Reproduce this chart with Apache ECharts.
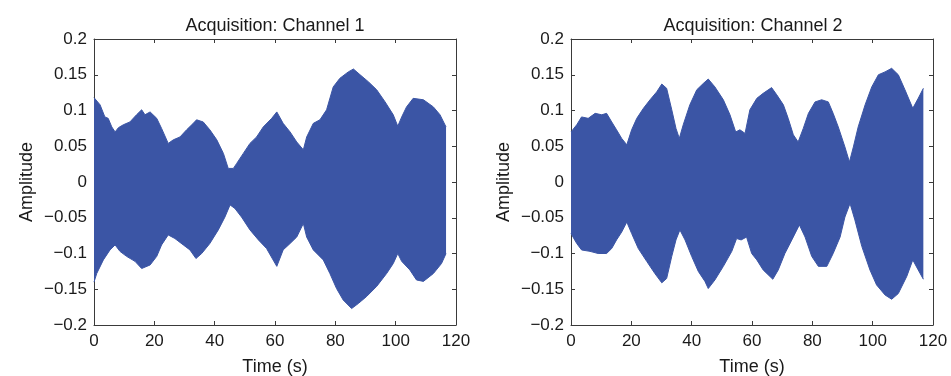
<!DOCTYPE html>
<html>
<head>
<meta charset="utf-8">
<script src="https://cdn.jsdelivr.net/npm/echarts@6/dist/echarts.min.js"></script>
<style>
  html, body { margin: 0; padding: 0; background: #fff; }
  #chart { width: 951px; height: 376px; }
</style>
</head>
<body>
<div id="chart"></div>
<script>
// envelope of the signal (time in s, amplitude)
const ch1UpperTime = [0, 2, 3.6, 4.7, 5.9, 7, 8.1, 9.7, 11.9, 14.1, 15.8, 16.9, 18.6, 20.8, 22.4, 24.6, 26.3, 28.5, 30.7, 32.9, 34, 36.2, 38.4, 40.7, 42.9, 44.5, 46.2, 47.3, 49.5, 51.7, 53.9, 56.1, 58.9, 60.6, 62.7, 65, 67.2, 69.4, 70.5, 72.7, 74.9, 77.1, 79.3, 81.5, 84.3, 86, 88.2, 91, 93.7, 96.5, 99.2, 100.7, 102, 103.6, 105.8, 109.2, 112.5, 114.7, 116.7]
const ch1Upper = [0.118, 0.108, 0.091, 0.089, 0.077, 0.070, 0.076, 0.080, 0.084, 0.094, 0.101, 0.094, 0.098, 0.089, 0.075, 0.054, 0.059, 0.063, 0.073, 0.082, 0.087, 0.084, 0.073, 0.059, 0.040, 0.019, 0.019, 0.026, 0.040, 0.054, 0.063, 0.077, 0.089, 0.098, 0.082, 0.070, 0.056, 0.045, 0.063, 0.082, 0.087, 0.101, 0.133, 0.145, 0.154, 0.158, 0.150, 0.140, 0.129, 0.112, 0.094, 0.078, 0.091, 0.105, 0.117, 0.115, 0.105, 0.094, 0.077]
const ch1LowerTime = [0, 0.9, 3.1, 5.3, 7, 8.6, 10.8, 13.6, 15.8, 18.6, 20.8, 22.4, 24.6, 26.8, 29.6, 31.8, 33.8, 35.7, 38.4, 41.2, 43.4, 45.1, 46.7, 48.9, 51.7, 54.5, 57.2, 60.6, 62.7, 65, 67.2, 69.4, 70.5, 72.7, 76, 78.2, 80.4, 82.6, 85.4, 87.6, 90.4, 93.7, 97, 99.2, 100.7, 102, 104.7, 106.9, 109.2, 112.5, 115.2, 116.7]
const ch1Lower = [-0.140, -0.128, -0.109, -0.095, -0.088, -0.097, -0.104, -0.111, -0.121, -0.116, -0.104, -0.088, -0.074, -0.079, -0.088, -0.095, -0.107, -0.100, -0.086, -0.067, -0.049, -0.032, -0.037, -0.049, -0.067, -0.081, -0.093, -0.118, -0.095, -0.086, -0.077, -0.058, -0.077, -0.095, -0.109, -0.128, -0.149, -0.165, -0.177, -0.170, -0.160, -0.146, -0.128, -0.114, -0.100, -0.111, -0.123, -0.137, -0.139, -0.128, -0.114, -0.100]

const ch2UpperTime = [0, 1.9, 3.5, 5.7, 8, 10.2, 11.8, 13.5, 15.1, 16.8, 18.5, 20.1, 21.8, 24, 26.2, 28.4, 30.1, 31.7, 33.4, 34.8, 35.9, 37.2, 39.4, 41.7, 43.9, 45.5, 47.7, 50.5, 52.7, 54.6, 56, 57.7, 59.3, 61.6, 63.7, 66.5, 68.2, 70.4, 72, 73.7, 75.3, 77, 78.7, 80.9, 83.1, 85.3, 86.9, 88.6, 90.8, 92.3, 93.6, 95.2, 97.5, 99.7, 101.9, 104.1, 106.3, 108.5, 110.7, 113.3, 115.1, 116.8]
const ch2Upper = [0.070, 0.080, 0.091, 0.089, 0.096, 0.094, 0.096, 0.084, 0.073, 0.061, 0.052, 0.073, 0.089, 0.103, 0.115, 0.126, 0.137, 0.131, 0.101, 0.075, 0.061, 0.080, 0.108, 0.129, 0.138, 0.144, 0.133, 0.115, 0.094, 0.070, 0.073, 0.068, 0.101, 0.117, 0.124, 0.132, 0.122, 0.108, 0.089, 0.066, 0.056, 0.075, 0.096, 0.112, 0.115, 0.112, 0.096, 0.077, 0.049, 0.028, 0.049, 0.077, 0.108, 0.133, 0.150, 0.154, 0.159, 0.150, 0.129, 0.103, 0.117, 0.131]
const ch2LowerTime = [0, 1.9, 3.5, 6.3, 9, 11.8, 13.5, 15.1, 16.8, 18.5, 20.1, 22.3, 25.1, 27.8, 30.1, 31.7, 33.4, 34.8, 36.1, 37.8, 40, 42.2, 44.4, 45.5, 47.7, 50.5, 53.3, 54.9, 56.4, 58.2, 59.9, 61.6, 63.7, 66.9, 68.7, 70.9, 73.2, 75.7, 77.6, 79.8, 82, 84.8, 86.9, 89.2, 90.8, 92.5, 94.1, 96.4, 99.1, 101.3, 104.1, 106.3, 108.5, 111.3, 113.3, 115.1, 116.8]
const ch2Lower = [-0.072, -0.086, -0.095, -0.097, -0.100, -0.100, -0.093, -0.081, -0.070, -0.056, -0.072, -0.093, -0.111, -0.128, -0.141, -0.135, -0.104, -0.081, -0.067, -0.081, -0.104, -0.125, -0.139, -0.149, -0.137, -0.118, -0.097, -0.079, -0.081, -0.077, -0.100, -0.109, -0.123, -0.136, -0.123, -0.100, -0.081, -0.060, -0.077, -0.104, -0.118, -0.118, -0.100, -0.077, -0.049, -0.030, -0.053, -0.090, -0.123, -0.144, -0.158, -0.164, -0.156, -0.132, -0.109, -0.123, -0.136]

const titles = ['Acquisition: Channel 1', 'Acquisition: Channel 2']
const timeTicks = { min: 0, max: 120, interval: 20 }
const ampTicks = { min: -0.2, max: 0.2, interval: 0.05 }

const fillColor = '#3b55a5'
const textColor = '#1a1a1a'
const lineColor = '#3a3a3a'
const font = 'Liberation Sans, Arial, Helvetica, sans-serif'

const fmtAmp = v => String(+v.toFixed(2)).replace('-', '\u2212')

const zip = (t, v) => t.map((x, i) => [x, v[i]])

// fixed plot boxes, no auto shrinking for labels
const grids = [
  { left: 94, right: 495, top: 39, bottom: 51, outerBoundsMode: 'none' },
  { left: 571, right: 18, top: 39, bottom: 51, outerBoundsMode: 'none' }
]

const xAxes = []
const yAxes = []
grids.forEach((g, i) => {
  // bottom axis with labels
  xAxes.push({
    type: 'value', gridIndex: i, position: 'bottom', ...timeTicks,
    name: 'Time (s)', nameLocation: 'middle', nameGap: 33,
    nameTextStyle: { color: textColor, fontSize: 18, fontFamily: font },
    axisLine: { show: true, onZero: false, lineStyle: { color: lineColor, width: 1 } },
    axisTick: { show: true, inside: true, length: 4, lineStyle: { color: lineColor } },
    axisLabel: { color: textColor, fontSize: 17, fontFamily: font, margin: 8 },
    splitLine: { show: false }
  })
  // top axis: only ticks and box line
  xAxes.push({
    type: 'value', gridIndex: i, position: 'top', ...timeTicks,
    axisLine: { show: true, onZero: false, lineStyle: { color: lineColor, width: 1 } },
    axisTick: { show: true, inside: true, length: 4, lineStyle: { color: lineColor } },
    axisLabel: { show: false },
    splitLine: { show: false }
  })
  yAxes.push({
    type: 'value', gridIndex: i, position: 'left', ...ampTicks,
    name: 'Amplitude', nameLocation: 'middle', nameGap: 58, nameRotate: 90,
    nameTextStyle: { color: textColor, fontSize: 18, fontFamily: font },
    axisLine: { show: true, onZero: false, lineStyle: { color: lineColor, width: 1 } },
    axisTick: { show: true, inside: true, length: 4, lineStyle: { color: lineColor } },
    axisLabel: { color: textColor, fontSize: 17, fontFamily: font, margin: 7, formatter: fmtAmp },
    splitLine: { show: false }
  })
  yAxes.push({
    type: 'value', gridIndex: i, position: 'right', ...ampTicks,
    axisLine: { show: true, onZero: false, lineStyle: { color: lineColor, width: 1 } },
    axisTick: { show: true, inside: true, length: 4, lineStyle: { color: lineColor } },
    axisLabel: { show: false },
    splitLine: { show: false }
  })
})

const envelope = (data, axis) => ({
  type: 'line',
  xAxisIndex: axis * 2,
  yAxisIndex: axis * 2,
  data,
  showSymbol: false,
  silent: true,
  lineStyle: { color: fillColor, width: 1 },
  areaStyle: { color: fillColor, opacity: 1, origin: 0 }
})

const chart = echarts.init(document.getElementById('chart'))
chart.setOption({
  animation: false,
  backgroundColor: '#ffffff',
  title: titles.map((t, i) => ({
    text: t,
    left: i === 0 ? 270 : 748,
    top: 12,
    textAlign: 'center',
    textStyle: { color: textColor, fontSize: 18, fontWeight: 'normal', fontFamily: font }
  })),
  grid: grids,
  xAxis: xAxes,
  yAxis: yAxes,
  series: [
    envelope(zip(ch1UpperTime, ch1Upper), 0),
    envelope(zip(ch1LowerTime, ch1Lower), 0),
    envelope(zip(ch2UpperTime, ch2Upper), 1),
    envelope(zip(ch2LowerTime, ch2Lower), 1)
  ]
})
</script>
</body>
</html>
